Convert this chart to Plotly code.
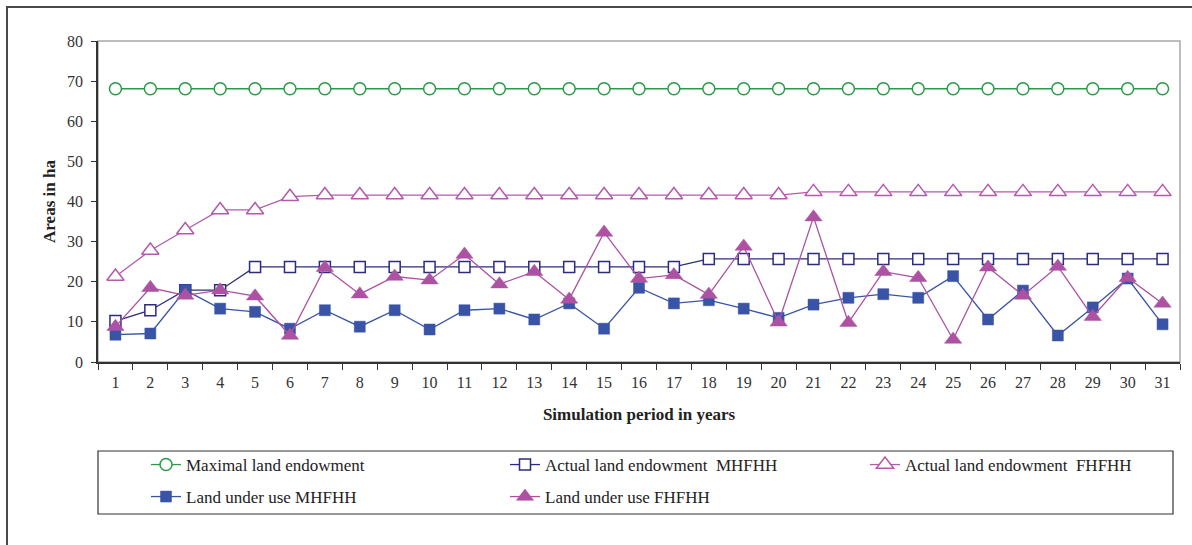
import plotly.graph_objects as go

years = [str(i) for i in range(1, 32)]

maximal_land = [68.1] * 31
actual_mhfhh = [10.2, 12.9, 17.9, 17.9] + [23.7] * 13 + [25.7] * 14
actual_fhfhh = [21.3, 27.8, 32.9, 37.9, 37.9, 41.2] + [41.6] * 14 + [42.4] * 11
use_mhfhh = [6.8, 7.1, 17.9, 13.3, 12.5, 8.3, 12.9, 8.8, 12.9, 8.1,
             12.9, 13.3, 10.6, 14.6, 8.3, 18.5, 14.6, 15.4, 13.3, 11.0,
             14.3, 16.0, 16.9, 16.0, 21.4, 10.6, 17.8, 6.6, 13.6, 20.8, 9.4]
use_fhfhh = [8.8, 18.5, 16.6, 17.9, 16.4, 6.6, 23.5, 16.9, 21.3, 20.4,
             26.8, 19.4, 22.5, 15.6, 32.3, 20.8, 21.7, 16.8, 28.8, 9.9,
             36.1, 9.8, 22.5, 21.0, 5.6, 23.6, 16.6, 23.8, 11.3, 21.0, 14.6]

names = ["Maximal land endowment", "Actual land endowment  MHFHH",
         "Actual land endowment  FHFHH", "Land under use MHFHH",
         "Land under use FHFHH"]

W, H = 1192, 545
L, R, T, B = 98, 12, 41, 183
PW, PH = W - L - R, H - T - B


def px(x):
    return (x - L) / PW


def py(y):
    return (H - B - y) / PH


GREEN = "#2a9a48"
NAVY = "#2c2c7c"
PINK = "#b35aab"
BLUE = "#3953a6"
MAG = "#ad52a2"
FONT = "Liberation Serif, Times New Roman, serif"

fig = go.Figure()
fig.add_trace(go.Scatter(x=years, y=maximal_land, name=names[0], mode="lines+markers",
                         line=dict(color=GREEN, width=1.3),
                         marker=dict(symbol="circle", size=12, color="white",
                                     line=dict(color=GREEN, width=1.5)),
                         legend="legend"))
fig.add_trace(go.Scatter(x=years, y=actual_mhfhh, name=names[1], mode="lines+markers",
                         line=dict(color=NAVY, width=1.3),
                         marker=dict(symbol="square", size=11, color="white",
                                     line=dict(color=NAVY, width=1.5)),
                         legend="legend2"))
fig.add_trace(go.Scatter(x=years, y=actual_fhfhh, name=names[2], mode="lines+markers",
                         line=dict(color=PINK, width=1.3),
                         marker=dict(symbol="triangle-up", size=15, color="white",
                                     line=dict(color=PINK, width=1.5)),
                         legend="legend3"))
fig.add_trace(go.Scatter(x=years, y=use_mhfhh, name=names[3], mode="lines+markers",
                         line=dict(color=BLUE, width=1.3),
                         marker=dict(symbol="square", size=11, color=BLUE,
                                     line=dict(color=BLUE, width=0.5)),
                         legend="legend4"))
fig.add_trace(go.Scatter(x=years, y=use_fhfhh, name=names[4], mode="lines+markers",
                         line=dict(color=MAG, width=1.3),
                         marker=dict(symbol="triangle-up", size=15, color=MAG,
                                     line=dict(color=MAG, width=0.5)),
                         legend="legend5"))


def leg(xpix, ypix):
    return dict(orientation="h", xanchor="left", yanchor="top",
                x=px(xpix), y=py(ypix),
                bgcolor="rgba(0,0,0,0)", borderwidth=0,
                font=dict(family=FONT, size=17, color="#222"))


ROW1, ROW2 = 447, 479
fig.update_layout(
    width=W, height=H,
    margin=dict(l=L, r=R, t=T, b=B, autoexpand=False),
    paper_bgcolor="white", plot_bgcolor="white",
    font=dict(family=FONT, size=16, color="#333"),
    showlegend=True,
    legend=leg(146, ROW1),
    legend2=leg(505, ROW1),
    legend3=leg(865, ROW1),
    legend4=leg(146, ROW2),
    legend5=leg(505, ROW2),
    xaxis=dict(type="category", tickson="boundaries", ticks="outside", ticklen=6,
               tickcolor="#333", showline=True, linecolor="#333", linewidth=1.5,
               showgrid=False, zeroline=False, ticklabelstandoff=5,
               tickfont=dict(family=FONT, size=16, color="#333"),
               title=dict(text="<b>Simulation period in years</b>",
                          font=dict(family=FONT, size=17, color="#222"), standoff=18),
               range=[-0.5, 30.5]),
    yaxis=dict(range=[0, 80], dtick=10, ticks="outside", ticklen=5, tickcolor="#333",
               showline=True, linecolor="#333", linewidth=1.5, showgrid=False,
               zeroline=False, ticklabelstandoff=5,
               tickfont=dict(family=FONT, size=16, color="#333"),
               title=dict(text="<b>Areas in ha</b>",
                          font=dict(family=FONT, size=17, color="#222"), standoff=7)),
    shapes=[
        dict(type="rect", xref="paper", yref="paper", x0=0, x1=1, y0=0, y1=1,
             line=dict(color="#a8a8a8", width=1.5), layer="below"),
        dict(type="rect", xref="paper", yref="paper", x0=px(98), x1=px(1173),
             y0=py(514), y1=py(451), line=dict(color="#333", width=1.2)),
        dict(type="rect", xref="paper", yref="paper", x0=px(7), x1=px(1200),
             y0=py(560), y1=py(7), line=dict(color="#4a4a4a", width=2)),
    ],
)

fig.write_html("out.html", config={"displayModeBar": False},
               post_script="document.body.style.margin='0';")
